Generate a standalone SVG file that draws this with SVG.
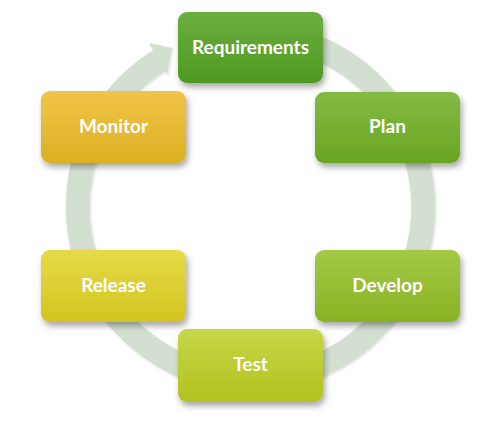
<svg xmlns="http://www.w3.org/2000/svg" width="486" height="425" viewBox="0 0 486 425">
  <defs>
    <filter id="shadow" x="-20%" y="-20%" width="150%" height="160%">
      <feDropShadow dx="2" dy="4" stdDeviation="3" flood-color="#000" flood-opacity="0.35"/>
    </filter>
    <filter id="ringShadow" x="-10%" y="-10%" width="120%" height="120%">
      <feDropShadow dx="1" dy="1" stdDeviation="1" flood-color="#000" flood-opacity="0.15"/>
    </filter>
    <linearGradient id="gReq" x1="0" y1="0" x2="0" y2="1"><stop offset="0" stop-color="#6cad3f"/><stop offset="1" stop-color="#4e9a22"/></linearGradient>
    <linearGradient id="gPlan" x1="0" y1="0" x2="0" y2="1"><stop offset="0" stop-color="#84bb44"/><stop offset="1" stop-color="#68a51f"/></linearGradient>
    <linearGradient id="gDev" x1="0" y1="0" x2="0" y2="1"><stop offset="0" stop-color="#a3c946"/><stop offset="1" stop-color="#8ab223"/></linearGradient>
    <linearGradient id="gTest" x1="0" y1="0" x2="0" y2="1"><stop offset="0" stop-color="#c6d748"/><stop offset="1" stop-color="#b2c21f"/></linearGradient>
    <linearGradient id="gRel" x1="0" y1="0" x2="0" y2="1"><stop offset="0" stop-color="#e5da48"/><stop offset="1" stop-color="#d4c41f"/></linearGradient>
    <linearGradient id="gMon" x1="0" y1="0" x2="0" y2="1"><stop offset="0" stop-color="#f1c448"/><stop offset="1" stop-color="#dcb022"/></linearGradient>
  </defs>
  <style>
    .box { filter: url(#shadow); }
    .lbl { font-family: Lato, "DejaVu Sans", sans-serif; font-weight: bold; font-size: 19px; fill: #ffffff; text-anchor: middle; }
  </style>
  <g id="connectors" filter="url(#ringShadow)">
    <path d="M 235.6 35 A 172.7 172.7 0 1 1 160.1 59.9" fill="none" stroke="#d3e0d1" stroke-width="24"/>
    <polygon points="149,43 172,48 167,75" fill="#d3e0d1"/>
  </g>
  <g id="requirements">
    <rect class="box" x="178" y="12" width="145" height="71" rx="9" fill="url(#gReq)"/>
    <text class="lbl" x="250.5" y="53.5">Requirements</text>
  </g>
  <g id="plan">
    <rect class="box" x="315" y="92" width="145" height="71" rx="9" fill="url(#gPlan)"/>
    <text class="lbl" x="387.5" y="133">Plan</text>
  </g>
  <g id="develop">
    <rect class="box" x="315" y="250" width="145" height="72" rx="9" fill="url(#gDev)"/>
    <text class="lbl" x="387.5" y="292">Develop</text>
  </g>
  <g id="test">
    <rect class="box" x="178" y="329" width="145" height="73" rx="9" fill="url(#gTest)"/>
    <text class="lbl" x="250.5" y="371">Test</text>
  </g>
  <g id="release">
    <rect class="box" x="41" y="250" width="145" height="72" rx="9" fill="url(#gRel)"/>
    <text class="lbl" x="113.5" y="292">Release</text>
  </g>
  <g id="monitor">
    <rect class="box" x="41" y="91" width="145" height="72" rx="9" fill="url(#gMon)"/>
    <text class="lbl" x="113.5" y="133">Monitor</text>
  </g>
</svg>
